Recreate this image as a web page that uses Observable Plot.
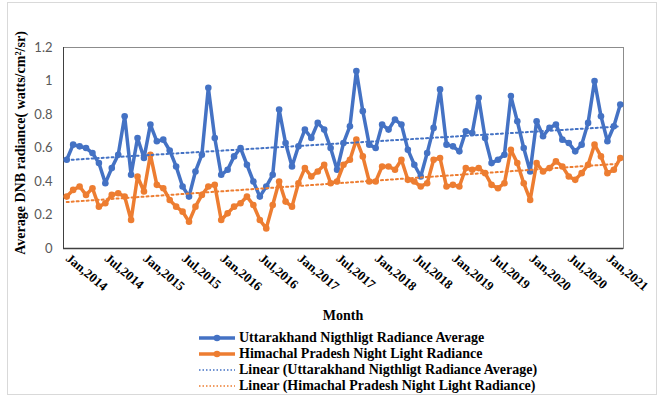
<!DOCTYPE html>
<html>
<head>
<meta charset="utf-8">
<script src="https://cdn.jsdelivr.net/npm/d3@7"></script>
<script src="https://cdn.jsdelivr.net/npm/@observablehq/plot@0.6"></script>
<style>
  body { margin: 0; background: #fff; }
  #wrap { position: relative; width: 662px; height: 398px; overflow: hidden; background: #fff; }
  #frame { position: absolute; left: 7px; top: 2px; width: 650px; height: 393px; border: 1px solid #d9d9d9; box-sizing: border-box; }
  #plot { position: absolute; left: 0; top: 0; }
  .ttl { position: absolute; font-family: "Liberation Serif", "Times New Roman", serif; font-weight: bold; font-size: 14px; color: #000; white-space: nowrap; }
  #ytitle { left: 21px; top: 143px; transform: translate(-50%, -50%) rotate(-90deg); }
  #xtitle { left: 343px; top: 316px; transform: translate(-50%, -50%); }
  .leg { position: absolute; left: 199px; height: 16px; display: flex; align-items: center; font-family: "Liberation Serif", "Times New Roman", serif; font-weight: bold; font-size: 14px; white-space: nowrap; }
  .leg svg { margin-right: 4px; }
</style>
</head>
<body>
<div id="wrap">
  <div id="frame"></div>
  <div id="plot"></div>
  <div class="ttl" id="ytitle">Average DNB radiance( watts/cm²/sr)</div>
  <div class="ttl" id="xtitle">Month</div>
  <div id="legend"></div>
</div>
<script>
// ---- Data ----
const seriesNames = [
  "Uttarakhand Nigthligt Radiance Average",
  "Himachal Pradesh Night Light Radiance"
];
const trendNames = [
  "Linear (Uttarakhand Nigthligt Radiance Average)",
  "Linear (Himachal Pradesh Night Light Radiance)"
];
const tickLabels = ["Jan,2014","Jul,2014","Jan,2015","Jul,2015","Jan,2016","Jul,2016","Jan,2017","Jul,2017","Jan,2018","Jul,2018","Jan,2019","Jul,2019","Jan,2020","Jul,2020","Jan,2021"];
const yTicks = [0, 0.2, 0.4, 0.6, 0.8, 1, 1.2];

const uttarakhand = [
  0.53,0.62,0.61,0.60,0.57,0.51,0.39,0.48,0.56,0.79,0.44,0.66,
  0.54,0.74,0.64,0.65,0.585,0.49,0.37,0.31,0.46,0.56,0.96,0.66,
  0.44,0.47,0.55,0.60,0.50,0.40,0.31,0.37,0.44,0.83,0.63,0.49,
  0.61,0.71,0.66,0.75,0.71,0.60,0.47,0.63,0.73,1.06,0.82,0.62,
  0.60,0.74,0.71,0.77,0.74,0.59,0.50,0.43,0.57,0.72,0.95,0.62,
  0.61,0.58,0.70,0.69,0.90,0.66,0.51,0.53,0.56,0.91,0.76,0.60,
  0.46,0.76,0.67,0.72,0.74,0.65,0.63,0.58,0.62,0.75,1.00,0.79,
  0.64,0.73,0.86
];
const himachal = [
  0.31,0.35,0.37,0.32,0.36,0.25,0.27,0.32,0.33,0.31,0.17,0.43,
  0.34,0.56,0.38,0.36,0.29,0.25,0.22,0.16,0.25,0.32,0.37,0.38,
  0.17,0.21,0.25,0.27,0.31,0.26,0.17,0.12,0.26,0.40,0.28,0.25,
  0.39,0.48,0.43,0.46,0.50,0.39,0.40,0.50,0.53,0.65,0.55,0.40,
  0.40,0.49,0.49,0.47,0.53,0.41,0.40,0.37,0.39,0.53,0.54,0.37,
  0.38,0.37,0.48,0.47,0.48,0.45,0.38,0.36,0.39,0.59,0.51,0.39,
  0.29,0.51,0.46,0.48,0.52,0.49,0.43,0.41,0.45,0.50,0.62,0.55,
  0.45,0.47,0.54
];
const colors = ["#4472C4", "#ED7D31"];

// ---- Categories ----
const months = d3.utcMonth.range(new Date(Date.UTC(2014, 0, 1)), new Date(Date.UTC(2014, uttarakhand.length, 1)));
const monthLabels = months.map(d3.utcFormat("%b,%Y"));
const tickIdx = tickLabels.map(t => monthLabels.indexOf(t));

const U = uttarakhand.map((v, i) => ({i, v}));
const H = himachal.map((v, i) => ({i, v}));

const chart = Plot.plot({
  width: 662,
  height: 310,
  marginLeft: 63,
  marginRight: 39,
  marginTop: 47,
  marginBottom: 62,
  style: {background: "transparent", overflow: "visible"},
  x: {type: "linear", domain: [-0.5, monthLabels.length - 0.5], axis: null},
  y: {domain: [0, 1.2], axis: null},
  marks: [
    Plot.axisY({ticks: yTicks, tickSize: 0, tickPadding: 11, tickFormat: d => String(d),
      fontFamily: "Lato", fontSize: 13, fill: "#595959", label: null}),
    Plot.axisX({ticks: tickIdx, tickFormat: i => monthLabels[i], tickRotate: 40, tickSize: 0, tickPadding: 8, dx: 1,
      textAnchor: "start", fontFamily: "Liberation Serif", fontWeight: "bold", fontSize: 13, fill: "#000", label: null}),
    Plot.frame({stroke: "#8c8c8c"}),
    Plot.ruleY([0], {stroke: "#404040", strokeWidth: 1.5}),
    Plot.ruleX([-0.5], {stroke: "#404040", strokeWidth: 1}),
    Plot.line(U, {x: "i", y: "v", stroke: colors[0], strokeWidth: 3.5}),
    Plot.dot(U, {x: "i", y: "v", r: 3.3, fill: colors[0]}),
    Plot.line(H, {x: "i", y: "v", stroke: colors[1], strokeWidth: 3.5}),
    Plot.dot(H, {x: "i", y: "v", r: 3.3, fill: colors[1]}),
    Plot.linearRegressionY(U, {x: "i", y: "v", stroke: colors[0], strokeWidth: 2, strokeDasharray: "2,3", ci: 0}),
    Plot.linearRegressionY(H, {x: "i", y: "v", stroke: colors[1], strokeWidth: 2, strokeDasharray: "2,3", ci: 0})
  ]
});
document.getElementById("plot").appendChild(chart);

// ---- Legend ----
const legend = document.getElementById("legend");
const rows = [
  {name: seriesNames[0], color: colors[0], solid: true},
  {name: seriesNames[1], color: colors[1], solid: true},
  {name: trendNames[0], color: colors[0], solid: false},
  {name: trendNames[1], color: colors[1], solid: false}
];
const rowCenters = [338, 354, 370, 386];
rows.forEach((r, k) => {
  const div = document.createElement("div");
  div.className = "leg";
  div.style.top = (rowCenters[k] - 8) + "px";
  const sw = r.solid
    ? `<svg width="36" height="10"><line x1="0" y1="5" x2="36" y2="5" stroke="${r.color}" stroke-width="3.5"/><circle cx="18" cy="5" r="3.3" fill="${r.color}"/></svg>`
    : `<svg width="36" height="10"><line x1="0" y1="5" x2="36" y2="5" stroke="${r.color}" stroke-width="1.3" stroke-dasharray="1.5,2"/></svg>`;
  div.innerHTML = sw + `<span>${r.name}</span>`;
  legend.appendChild(div);
});
</script>
</body>
</html>
